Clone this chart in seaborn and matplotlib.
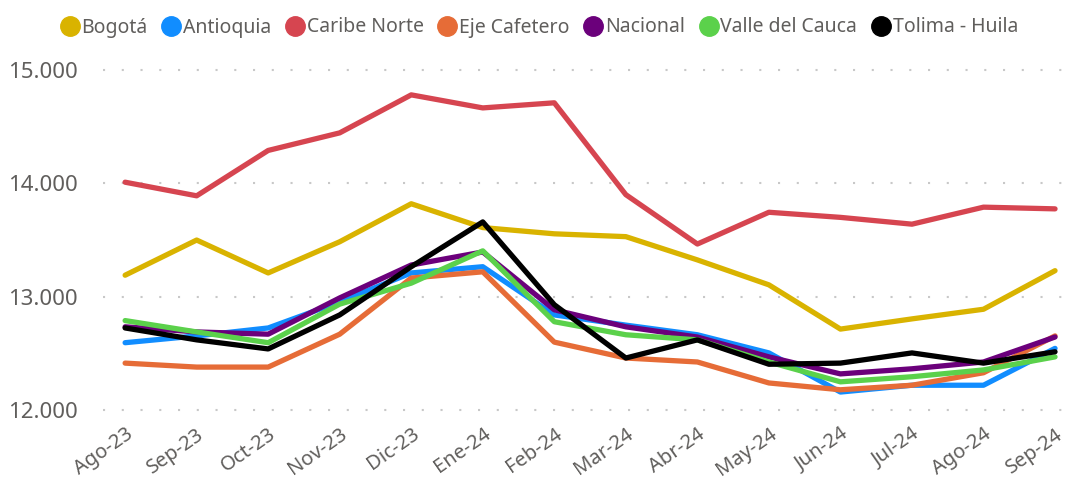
import pandas as pd
import matplotlib; matplotlib.use('Agg')
import matplotlib.pyplot as plt
from matplotlib.lines import Line2D
import seaborn as sns

MONTHS = ['Ago-23', 'Sep-23', 'Oct-23', 'Nov-23', 'Dic-23', 'Ene-24', 'Feb-24',
          'Mar-24', 'Abr-24', 'May-24', 'Jun-24', 'Jul-24', 'Ago-24', 'Sep-24']

bogota   = [13190, 13500, 13210, 13485, 13820, 13610, 13555, 13530, 13325, 13105, 12715, 12805, 12890, 13230]
antioq   = [12595, 12655, 12725, 12955, 13210, 13265, 12840, 12750, 12665, 12505, 12160, 12220, 12220, 12545]
caribe   = [14010, 13890, 14290, 14445, 14780, 14665, 14710, 13900, 13465, 13745, 13700, 13640, 13790, 13775]
eje      = [12415, 12380, 12380, 12670, 13165, 13220, 12600, 12460, 12425, 12240, 12180, 12220, 12330, 12655]
nacional = [12735, 12690, 12670, 12990, 13280, 13395, 12885, 12735, 12645, 12470, 12320, 12365, 12425, 12645]
valle    = [12790, 12690, 12595, 12935, 13120, 13405, 12780, 12665, 12620, 12425, 12250, 12295, 12355, 12470]
tolima   = [12725, 12620, 12540, 12840, 13265, 13660, 12930, 12460, 12620, 12405, 12415, 12505, 12415, 12515]

SERIES = {'Bogotá': bogota, 'Antioquia': antioq, 'Caribe Norte': caribe,
          'Eje Cafetero': eje, 'Nacional': nacional, 'Valle del Cauca': valle,
          'Tolima - Huila': tolima}
COLORS = {'Bogotá': '#D9B300', 'Antioquia': '#118DFF', 'Caribe Norte': '#D64550',
          'Eje Cafetero': '#E66C37', 'Nacional': '#6B007B', 'Valle del Cauca': '#5BD14B',
          'Tolima - Huila': '#000000'}

df = pd.concat([pd.DataFrame({'Mes': MONTHS, 'Valor': v, 'Region': k})
                for k, v in SERIES.items()], ignore_index=True)

sns.set_theme(style='white')
plt.rcParams['font.family'] = ['Noto Sans', 'DejaVu Sans']
GRAY = '#605E5C'

fig = plt.figure(figsize=(10.69, 4.83), dpi=100)
ax = fig.add_axes([0.0963, 0.139, 0.90, 0.728])

sns.lineplot(data=df, x='Mes', y='Valor', hue='Region', palette=COLORS, sort=False,
             linewidth=3.8, ax=ax, legend=False)

ax.set_xlim(-0.31, 13.14)
ax.set_ylim(11950, 15050)
ax.set_yticks([12000, 13000, 14000, 15000])
ax.set_yticklabels([f'{v:,}'.replace(',', '.') for v in [12000, 13000, 14000, 15000]])
ax.yaxis.grid(True, color='#C8C8C8', linestyle=(0, (1, 8)), linewidth=1.5)
ax.set_axisbelow(True)
for s in ax.spines.values():
    s.set_visible(False)
ax.set_xlabel(''); ax.set_ylabel('')
ax.tick_params(axis='y', length=0, pad=18, labelsize=16, labelcolor=GRAY)
ax.tick_params(axis='x', length=0, pad=6, labelsize=14.5, labelcolor=GRAY)
for lbl in ax.get_xticklabels():
    lbl.set_rotation(35); lbl.set_ha('right'); lbl.set_rotation_mode('anchor')

handles = [Line2D([], [], marker='o', ls='', markersize=14, color=c) for c in COLORS.values()]
fig.legend(handles, list(COLORS.keys()), loc='upper left', bbox_to_anchor=(0.038, 1.0),
           ncol=7, frameon=False, fontsize=14, labelcolor=GRAY,
           handletextpad=0.0, columnspacing=0.62, handlelength=1.2)

plt.savefig('out.png', dpi=100)
